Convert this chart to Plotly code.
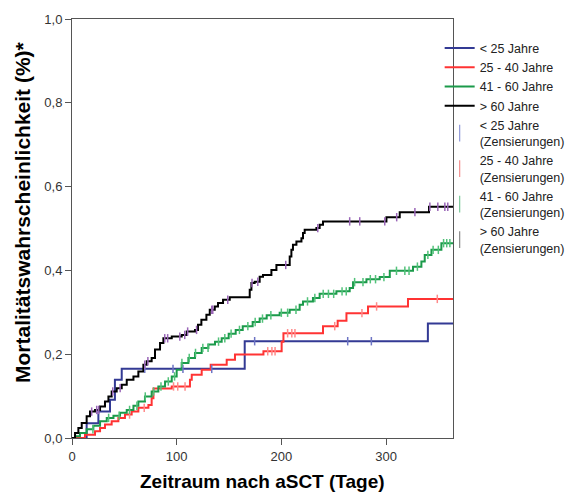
import numpy as np
import plotly.graph_objects as go

XMAX = 364

# < 25 Jahre
blue_days = [0, 14, 25.2, 36.3, 41, 47.5, 165, 340]
blue_vals = [0, 0.035, 0.063, 0.091, 0.139, 0.165, 0.231, 0.273]
blue_cens = [69.5, 96.5, 106, 133.5, 174.5, 263.4, 286]

# 25 - 40 Jahre
red_days = [0, 12.4, 22.0, 26.8, 31.5, 37.9, 44.3, 50.6, 57.0, 63.4, 73.0, 76.1, 77.8, 95.3,
            112.7, 114.4, 123.9, 132.5, 147.8, 155.7, 182.9, 200.3, 202.0, 239.8, 253.8, 262.2,
            282.8, 321.0]
red_vals = [0, 0.008, 0.016, 0.024, 0.032, 0.040, 0.048, 0.056, 0.063, 0.072, 0.079, 0.095, 0.118,
            0.123, 0.139, 0.151, 0.163, 0.175, 0.187, 0.199, 0.207, 0.230, 0.250, 0.267, 0.280,
            0.298, 0.314, 0.332]
red_cens = [55, 69, 97, 101, 108, 187, 191, 194, 206, 210, 213, 251, 277, 291, 349]

# 41 - 60 Jahre
green_days = [0, 2.9, 7.6, 14.0, 20.4, 26.8, 33.2, 39.6, 45.9, 52.3, 58.7, 63.4, 69.7, 76.1, 82.5,
              88.9, 95.3, 100.0, 104.8, 111.2, 117.5, 123.9, 130.3, 136.6, 143.0, 149.7, 156.4,
              163.1, 172.6, 179.3, 186.0, 198.4, 208.0, 217.5, 220.7, 230.2, 236.6, 252.6, 265.3,
              268.5, 281.3, 294.0, 303.6, 325.8, 333.8, 337.0, 343.4, 352.9]
green_vals = [0, 0.004, 0.012, 0.021, 0.029, 0.040, 0.048, 0.053, 0.060, 0.067, 0.077, 0.087, 0.099,
              0.111, 0.123, 0.135, 0.147, 0.163, 0.179, 0.191, 0.203, 0.215, 0.223, 0.230, 0.238,
              0.249, 0.258, 0.267, 0.277, 0.285, 0.293, 0.299, 0.306, 0.318, 0.326, 0.334, 0.344,
              0.350, 0.358, 0.372, 0.379, 0.384, 0.399, 0.409, 0.421, 0.437, 0.449, 0.465]
green_cens = [20, 35, 45, 55, 62, 70, 78, 85, 92, 98, 105, 112, 118, 125, 130, 140, 146, 152, 160,
              168, 175, 182, 190, 200, 206, 214, 225, 232, 240, 245, 250, 258, 262, 270, 278, 285,
              290, 298, 310, 318, 322, 330, 340, 345, 350, 355, 358, 361]

# > 60 Jahre
black_days = [0, 2.9, 6.1, 9.3, 14.0, 17.2, 22.0, 26.8, 31.5, 34.8, 37.9, 42.7, 47.5, 52.3, 58.7,
              63.4, 68.2, 71.4, 76.1, 79.3, 84.1, 87.3, 95.3, 104.8, 109.6, 117.5, 120.4, 123.6,
              128.4, 131.6, 136.4, 139.5, 144.3, 150.7, 169.8, 171.4, 174.5, 179.3, 182.5, 190.5,
              195.3, 208.0, 209.6, 211.1, 214.4, 219.2, 220.7, 222.3, 233.5, 236.6, 239.8, 300.4,
              313.1, 341.1]
black_vals = [0, 0.012, 0.024, 0.036, 0.052, 0.063, 0.067, 0.075, 0.087, 0.099, 0.111, 0.119, 0.127,
              0.139, 0.147, 0.159, 0.175, 0.183, 0.191, 0.211, 0.227, 0.238, 0.242, 0.246, 0.254,
              0.258, 0.270, 0.282, 0.294, 0.306, 0.314, 0.322, 0.330, 0.336, 0.354, 0.370, 0.373,
              0.385, 0.389, 0.401, 0.413, 0.433, 0.449, 0.461, 0.469, 0.477, 0.489, 0.497, 0.501,
              0.509, 0.517, 0.527, 0.539, 0.552]
black_cens = [18.8, 23.6, 25.5, 38.9, 46, 69.5, 72.5, 88.6, 91.4, 103, 107.7, 110.5, 119, 133.5,
              134.5, 148.8, 172, 177.5, 204.2, 234.8, 265.3, 274.9, 298.8, 310.2, 327.6, 341.9,
              349.5, 356.2, 359]

groups = ["< 25 Jahre", "25 - 40 Jahre", "41 - 60 Jahre", "> 60 Jahre"]
series = [
    (blue_days, blue_vals, blue_cens, "#333a94", "#6d74c4", "#8f98d8"),
    (red_days, red_vals, red_cens, "#ff3333", "#ff8a8a", "#f48f8f"),
    (green_days, green_vals, green_cens, "#1b9a4a", "#52c27a", "#7cc99a"),
    (black_days, black_vals, black_cens, "#000000", "#9a66b8", "#8a8a8a"),
]

fig = go.Figure()

# step lines
for name, (d, v, c, lc, mc, legc) in zip(groups, series):
    fig.add_trace(go.Scatter(
        x=list(d) + [XMAX], y=list(v) + [v[-1]], mode="lines", name=name,
        line=dict(color=lc, width=2, shape="hv"), showlegend=True))

# censor marks (plot) + legend entries
for name, (d, v, c, lc, mc, legc) in zip(groups, series):
    d_arr = np.array(d)
    v_arr = np.array(v)
    idx = np.searchsorted(d_arr, np.array(c), side="right") - 1
    cy = v_arr[idx]
    fig.add_trace(go.Scatter(
        x=c, y=cy, mode="markers", showlegend=False, hoverinfo="skip",
        marker=dict(symbol="line-ns", size=6, line=dict(color=mc, width=1.5))))
    fig.add_trace(go.Scatter(
        x=[None], y=[None], mode="markers", name=name + "<br>(Zensierungen)",
        marker=dict(symbol="line-ns", size=12, line=dict(color=legc, width=1.2))))

ytick = [0, 0.2, 0.4, 0.6, 0.8, 1.0]
ytext = ["0,0", "0,2", "0,4", "0,6", "0,8", "1,0"]
xtick = [0, 100, 200, 300]

# the page body adds an 8px offset; the figure is sized so the plot lands at x 72-453, y 19-438
PLOT_H = 419
fig.update_layout(
    width=570, height=484,
    margin=dict(l=64, r=125, t=11, b=54, autoexpand=False),
    paper_bgcolor="white", plot_bgcolor="white",
    font=dict(family="Liberation Sans, Arial, sans-serif", size=13, color="#333333"),
    showlegend=True,
    legend=dict(x=0.965, xanchor="left", y=0.9655, yanchor="top",
                bgcolor="rgba(0,0,0,0)", font=dict(size=12.5, color="#222222"),
                itemwidth=30, tracegroupgap=0),
    xaxis=dict(range=[0, XMAX], tickvals=xtick, ticktext=[str(t) for t in xtick],
               showgrid=False, zeroline=False, showline=True, mirror=True,
               linecolor="#555555", linewidth=1, ticks="outside", ticklen=6,
               tickcolor="#555555", automargin=False),
    yaxis=dict(range=[0, 1], tickvals=ytick, ticktext=ytext,
               showgrid=False, zeroline=False, showline=True, mirror=True,
               linecolor="#555555", linewidth=1, ticks="outside", ticklen=6,
               tickcolor="#555555", automargin=False),
    annotations=[
        dict(text="<b>Zeitraum nach aSCT (Tage)</b>", xref="paper", yref="paper",
             x=0.5, y=-(481 - 438) / PLOT_H, xanchor="center", yanchor="middle",
             showarrow=False, font=dict(size=19, color="#000000")),
        dict(text="<b>Mortalitätswahrscheinlichkeit (%)*</b>", xref="paper", yref="paper",
             x=(22 - 72) / 381, y=(438 - 212) / PLOT_H, xanchor="center", yanchor="middle",
             textangle=-90, showarrow=False, font=dict(size=21, color="#000000")),
    ],
)

fig.write_html("out.html")
